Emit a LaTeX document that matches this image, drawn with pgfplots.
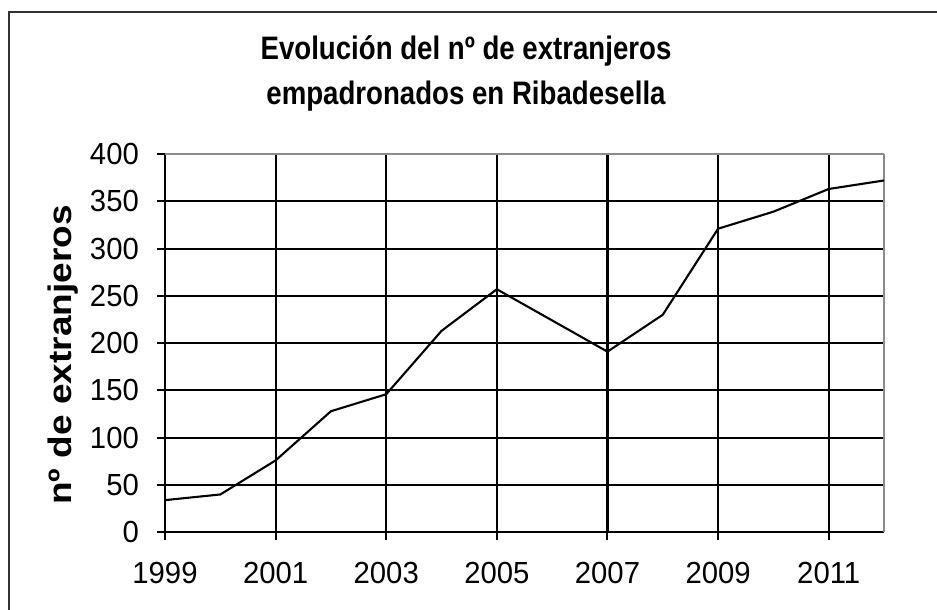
\documentclass[border=0pt]{standalone}
\usepackage{fontspec}
\setmainfont{Liberation Sans}
\newfontfamily\titlefont[FakeStretch=0.85]{Liberation Sans}
\newfontfamily\tickfont[FakeStretch=0.96]{Liberation Sans}
\usepackage{graphicx}
\usepackage{pgfplots}
\pgfplotsset{compat=1.18}
\begin{document}
\begin{tikzpicture}[x=1pt,y=1pt]
\useasboundingbox (0,0) rectangle (937,610);
% outer frame (left and top edges visible)
\draw[line width=1.3pt, black!80] (9,-5) -- (9,598) -- (945,598);
% title
\node[anchor=base, inner sep=0pt, font=\titlefont\fontsize{32.5}{36}\selectfont\bfseries] at (466,550) {Evolución del nº de extranjeros};
\node[anchor=base, inner sep=0pt, font=\titlefont\fontsize{32.5}{36}\selectfont\bfseries] at (466,505) {empadronados en Ribadesella};
% y label
\node[anchor=center, inner sep=0pt] at (63.5,255) {\scalebox{0.88}[1]{\rotatebox{90}{\fontsize{37}{42}\selectfont\bfseries nº de extranjeros}}};
\begin{axis}[
  at={(165pt,77.7pt)}, anchor=south west,
  scale only axis, width=719pt, height=378.3pt,
  xmin=1999, xmax=2012, ymin=0, ymax=400,
  axis line style={draw=none},
  xtick={1999,2001,...,2011},
  ytick={0,50,...,350},
  xtick pos=bottom, ytick pos=left,
  extra y ticks={400},
  extra y tick style={grid style={black!45, line width=1.3pt}},
  extra x ticks={2012},
  extra x tick labels={},
  extra x tick style={grid style={black!45, line width=1.3pt}, major tick length=0pt},
  grid=major,
  grid style={black, line width=2.1pt},
  tick align=outside,
  major tick length=8pt,
  tick style={black, line width=2pt},
  /pgf/number format/1000 sep={},
  /pgf/number format/assume math mode=true,
  ticklabel style={font=\tickfont\fontsize{30.5}{35}\selectfont},
  yticklabel style={inner sep=0pt, xshift=-18pt},
  xticklabel style={inner sep=0pt, yshift=-22pt},
]
\addplot[black, line width=2.1pt] coordinates {
(1999,34) (2000,40) (2001,76) (2002,128) (2003,146) (2004,213) (2005,257)
(2006,224) (2007,191) (2008,230) (2009,321) (2010,339) (2011,363) (2012,372)
};
\end{axis}
\end{tikzpicture}
\end{document}
